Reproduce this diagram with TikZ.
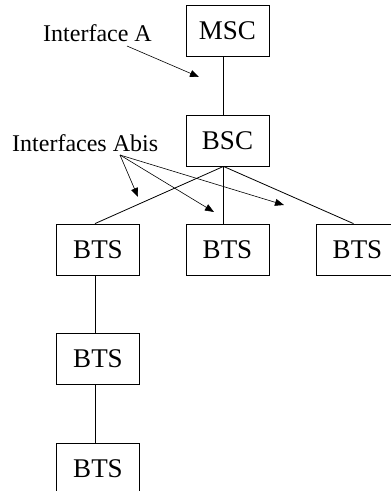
\documentclass[tikz,border=0pt]{standalone}
\usepackage{fontspec}
\setmainfont{Liberation Serif}
\usetikzlibrary{arrows.meta}
\tikzset{
  box/.style={draw, line width=0.8pt, minimum width=83pt, minimum height=51pt, inner sep=0pt, font=\fontsize{27}{30}\selectfont},
  lbl/.style={anchor=base west, inner sep=0pt, font=\fontsize{24}{28}\selectfont},
  pointer/.style={-{Triangle[length=9pt,width=7pt]}, line width=0.6pt},
  link/.style={line width=0.8pt}
}
\begin{document}
\begin{tikzpicture}[x=1pt,y=-1pt]
      \useasboundingbox (0,0) rectangle (391,491);
      \draw
        (227.5,31) node[box] (msc){MSC}
        (227.5,140.5) node[box] (bsc){BSC}
        (98,249.5) node[box] (bts1){BTS}
        (227.5,249.5) node[box] (bts2){BTS}
        (357.5,249.5) node[box] (bts3){BTS}
        (98,359) node[box] (bts4){BTS}
        (98,468.5) node[box] (bts5){BTS};
      \draw
        (43,41) node[lbl] (ifa){Interface A}
        (12,151) node[lbl] (ifabis){Interfaces Abis};
      \coordinate (pa) at (127,46);
      \coordinate (pb) at (120,155);
      \coordinate (ta) at (199,77);
      \coordinate (t1) at (138,197);
      \coordinate (t2) at (214,212);
      \coordinate (t3) at (284,205);
      \begin{scope}[link]
        \draw ([xshift=-4pt]msc.south) to ([xshift=-4pt]bsc.north);
        \draw ([xshift=-4pt]bsc.south) to ([xshift=-3pt]bts1.north);
        \draw ([xshift=-4pt]bsc.south) to ([xshift=-4pt]bts2.north);
        \draw ([xshift=-4pt]bsc.south) to ([xshift=-4pt]bts3.north);
        \draw ([xshift=-3pt]bts1.south) to ([xshift=-3pt]bts4.north);
        \draw ([xshift=-3pt]bts4.south) to ([xshift=-3pt]bts5.north);
      \end{scope}
      \begin{scope}[pointer]
        \draw (pa) to (ta);
        \draw (pb) to (t1);
        \draw (pb) to (t2);
        \draw (pb) to (t3);
      \end{scope}
    \end{tikzpicture}
\end{document}
